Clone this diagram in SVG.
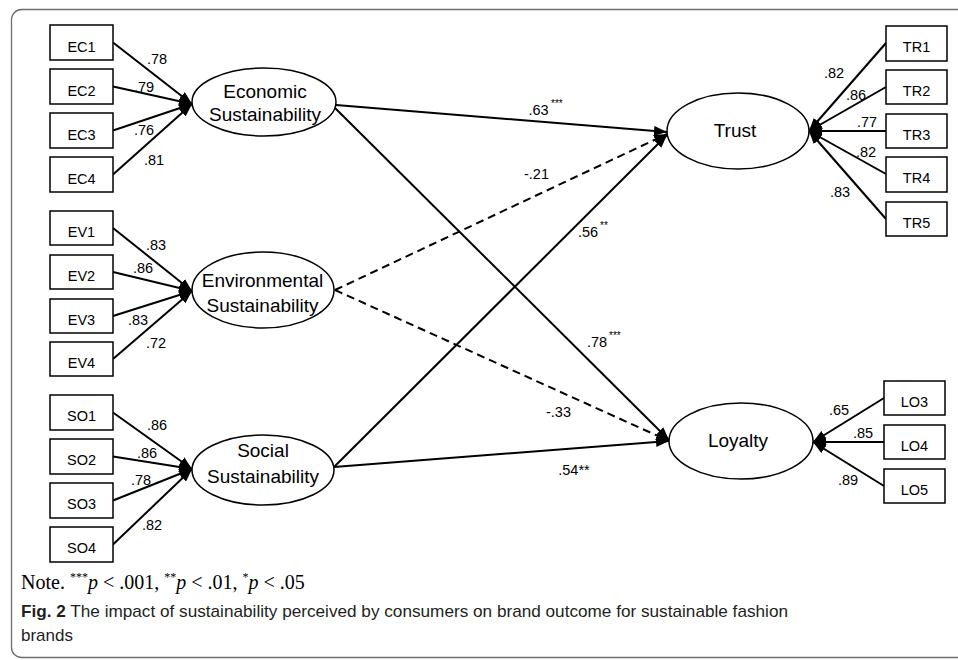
<svg xmlns="http://www.w3.org/2000/svg" width="958" height="660" viewBox="0 0 958 660">
<style>
.box{fill:#fff;stroke:#000;stroke-width:1.5}
.ell{fill:#fff;stroke:#000;stroke-width:1.5}
.lbl{font-family:"Liberation Sans",Arial,sans-serif;font-size:14.5px;fill:#000;text-anchor:middle}
.ld{font-family:"Liberation Sans",Arial,sans-serif;font-size:14.5px;fill:#000;text-anchor:middle}
.lv{font-family:"Liberation Sans",Arial,sans-serif;font-size:19px;fill:#000;text-anchor:middle}
.sup{font-family:"Liberation Sans",Arial,sans-serif;font-size:10px;fill:#000}
.ln{stroke:#000;stroke-width:2;fill:none;marker-end:url(#ah)}
.dash{stroke-dasharray:8,5}
.note{font-family:"Liberation Serif","Times New Roman",serif;font-size:20px;fill:#000}
.cap{font-family:"Liberation Sans",Arial,sans-serif;font-size:17px;fill:#231f20}
</style>
<defs>
<marker id="ah" viewBox="0 0 13 10" refX="13" refY="5" markerWidth="13" markerHeight="10" markerUnits="userSpaceOnUse" orient="auto"><path d="M0,0 L13,5 L0,10 z" fill="#000"/></marker>
</defs>
<rect x="11.5" y="9.5" width="970" height="648" rx="10" fill="none" stroke="#6d6d6d" stroke-width="1.3"/>

<g id="connectors">
<line class="ln" x1="113" y1="42.5" x2="192" y2="104"/>
<line class="ln" x1="113" y1="86.5" x2="192" y2="104"/>
<line class="ln" x1="113" y1="130.5" x2="192" y2="104"/>
<line class="ln" x1="113" y1="174.5" x2="192" y2="104"/>
<line class="ln" x1="113" y1="228" x2="192" y2="291"/>
<line class="ln" x1="113" y1="272" x2="192" y2="291"/>
<line class="ln" x1="113" y1="316" x2="192" y2="291"/>
<line class="ln" x1="113" y1="359" x2="192" y2="291"/>
<line class="ln" x1="113" y1="412.5" x2="192" y2="469"/>
<line class="ln" x1="113" y1="456.5" x2="192" y2="469"/>
<line class="ln" x1="113" y1="500.5" x2="192" y2="469"/>
<line class="ln" x1="113" y1="544.5" x2="192" y2="469"/>
<line class="ln" x1="886" y1="43" x2="809" y2="131"/>
<line class="ln" x1="886" y1="87" x2="809" y2="131"/>
<line class="ln" x1="886" y1="131" x2="809" y2="131"/>
<line class="ln" x1="886" y1="174" x2="809" y2="131"/>
<line class="ln" x1="886" y1="219" x2="809" y2="131"/>
<line class="ln" x1="884" y1="398" x2="813" y2="442"/>
<line class="ln" x1="884" y1="442" x2="813" y2="442"/>
<line class="ln" x1="884" y1="486" x2="813" y2="442"/>
<line class="ln" x1="336" y1="105" x2="667" y2="132"/>
<line class="ln" x1="335" y1="108" x2="669" y2="440"/>
<line class="ln dash" x1="335" y1="290" x2="667" y2="134"/>
<line class="ln dash" x1="335" y1="290" x2="669" y2="441"/>
<line class="ln" x1="334" y1="467" x2="667" y2="135"/>
<line class="ln" x1="334" y1="467" x2="669" y2="441"/>
</g>

<g id="EC1"><rect class="box" x="50" y="25" width="63" height="35"/><text class="lbl" x="81.5" y="52">EC1</text></g>
<g id="EC2"><rect class="box" x="50" y="69" width="63" height="35"/><text class="lbl" x="81.5" y="96">EC2</text></g>
<g id="EC3"><rect class="box" x="50" y="113" width="63" height="35"/><text class="lbl" x="81.5" y="140">EC3</text></g>
<g id="EC4"><rect class="box" x="50" y="157" width="63" height="35"/><text class="lbl" x="81.5" y="184">EC4</text></g>

<g id="EV1"><rect class="box" x="50" y="211" width="63" height="34"/><text class="lbl" x="81.5" y="237">EV1</text></g>
<g id="EV2"><rect class="box" x="50" y="255" width="63" height="34"/><text class="lbl" x="81.5" y="281">EV2</text></g>
<g id="EV3"><rect class="box" x="50" y="299" width="63" height="34"/><text class="lbl" x="81.5" y="325">EV3</text></g>
<g id="EV4"><rect class="box" x="50" y="342" width="63" height="34"/><text class="lbl" x="81.5" y="368">EV4</text></g>

<g id="SO1"><rect class="box" x="50" y="395" width="63" height="35"/><text class="lbl" x="81.5" y="421">SO1</text></g>
<g id="SO2"><rect class="box" x="50" y="439" width="63" height="35"/><text class="lbl" x="81.5" y="465">SO2</text></g>
<g id="SO3"><rect class="box" x="50" y="483" width="63" height="35"/><text class="lbl" x="81.5" y="509">SO3</text></g>
<g id="SO4"><rect class="box" x="50" y="527" width="63" height="35"/><text class="lbl" x="81.5" y="553">SO4</text></g>

<g id="TR1"><rect class="box" x="886" y="26" width="61" height="35"/><text class="lbl" x="916.5" y="52">TR1</text></g>
<g id="TR2"><rect class="box" x="886" y="70" width="61" height="34"/><text class="lbl" x="916.5" y="96">TR2</text></g>
<g id="TR3"><rect class="box" x="886" y="114" width="61" height="34"/><text class="lbl" x="916.5" y="140">TR3</text></g>
<g id="TR4"><rect class="box" x="886" y="157" width="61" height="35"/><text class="lbl" x="916.5" y="183">TR4</text></g>
<g id="TR5"><rect class="box" x="886" y="202" width="61" height="34"/><text class="lbl" x="916.5" y="228">TR5</text></g>

<g id="LO3"><rect class="box" x="884" y="381" width="61" height="34"/><text class="lbl" x="914.5" y="407">LO3</text></g>
<g id="LO4"><rect class="box" x="884" y="425" width="61" height="34"/><text class="lbl" x="914.5" y="451">LO4</text></g>
<g id="LO5"><rect class="box" x="884" y="469" width="61" height="34"/><text class="lbl" x="914.5" y="495">LO5</text></g>

<g id="Economic"><ellipse class="ell" cx="264" cy="102" rx="72" ry="34"/><text class="lv" x="265" y="98">Economic</text><text class="lv" x="265" y="121">Sustainability</text></g>
<g id="Environmental"><ellipse class="ell" cx="263" cy="290" rx="71" ry="38"/><text class="lv" x="262.5" y="287">Environmental</text><text class="lv" x="262.5" y="312">Sustainability</text></g>
<g id="Social"><ellipse class="ell" cx="263" cy="470" rx="71" ry="35"/><text class="lv" x="263" y="457">Social</text><text class="lv" x="263" y="483">Sustainability</text></g>
<g id="Trust"><ellipse class="ell" cx="738" cy="131" rx="71" ry="38"/><text class="lv" x="735" y="137">Trust</text></g>
<g id="Loyalty"><ellipse class="ell" cx="741" cy="441" rx="72" ry="38"/><text class="lv" x="738" y="447">Loyalty</text></g>

<g id="loadings">
<text class="ld" x="157" y="64">.78</text>
<text class="ld" x="144" y="92">.79</text>
<text class="ld" x="144" y="135">.76</text>
<text class="ld" x="154" y="165">.81</text>
<text class="ld" x="156" y="250">.83</text>
<text class="ld" x="143" y="273">.86</text>
<text class="ld" x="138" y="325">.83</text>
<text class="ld" x="156" y="348">.72</text>
<text class="ld" x="157" y="430">.86</text>
<text class="ld" x="147" y="458">.86</text>
<text class="ld" x="141" y="485">.78</text>
<text class="ld" x="152" y="530">.82</text>
<text class="ld" x="834" y="78">.82</text>
<text class="ld" x="856" y="100">.86</text>
<text class="ld" x="867" y="127">.77</text>
<text class="ld" x="866" y="157">.82</text>
<text class="ld" x="840" y="197">.83</text>
<text class="ld" x="839" y="415">.65</text>
<text class="ld" x="863" y="438">.85</text>
<text class="ld" x="848" y="485">.89</text>
</g>

<g id="path-labels">
<text class="ld" x="538.5" y="115">.63</text><text class="sup" x="551" y="107">***</text>
<text class="ld" x="536.5" y="179">-.21</text>
<text class="ld" x="588" y="237">.56</text><text class="sup" x="600" y="229">**</text>
<text class="ld" x="597" y="347">.78</text><text class="sup" x="609" y="339">***</text>
<text class="ld" x="558.5" y="417">-.33</text>
<text class="ld" x="574" y="475">.54**</text>
</g>

<text class="note" x="21" y="589">Note. <tspan font-size="12" dy="-8">***</tspan><tspan font-style="italic" dy="8">p</tspan> &lt; .001, <tspan font-size="12" dy="-8">**</tspan><tspan font-style="italic" dy="8">p</tspan> &lt; .01, <tspan font-size="12" dy="-8">*</tspan><tspan font-style="italic" dy="8">p</tspan> &lt; .05</text>
<text class="cap" x="21" y="617" textLength="767" lengthAdjust="spacingAndGlyphs"><tspan font-weight="bold">Fig. 2</tspan>  The impact of sustainability perceived by consumers on brand outcome for sustainable fashion</text>
<text class="cap" x="21" y="641">brands</text>
</svg>
